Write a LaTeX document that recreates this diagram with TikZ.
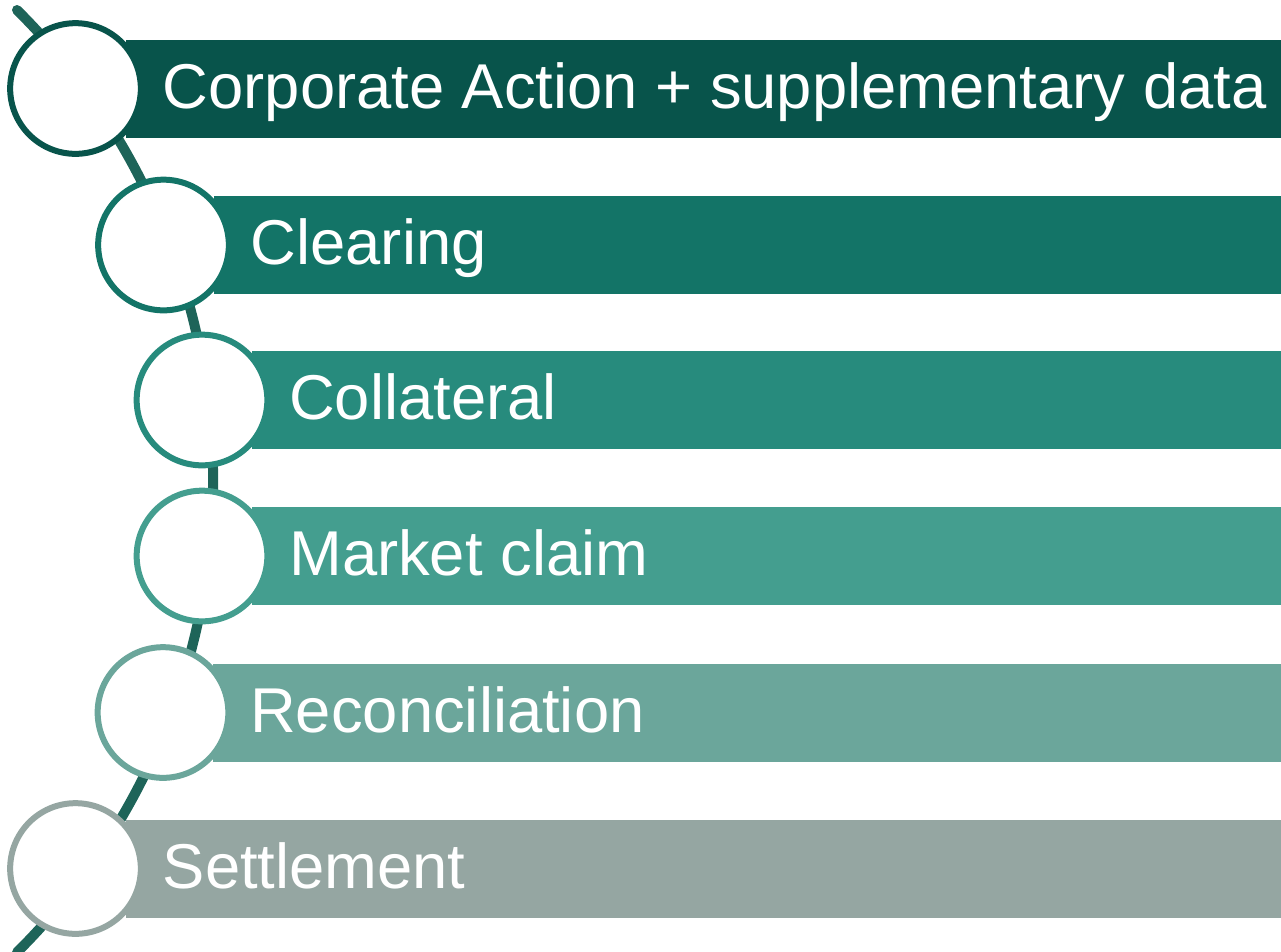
\documentclass[tikz,border=0pt]{standalone}
\usepackage{fontspec}
\setmainfont{Liberation Sans}

\definecolor{barA}{HTML}{08544B}
\definecolor{barB}{HTML}{137467}
\definecolor{barC}{HTML}{278B7D}
\definecolor{barD}{HTML}{449E8F}
\definecolor{barE}{HTML}{6BA69B}
\definecolor{barF}{HTML}{95A6A2}
\definecolor{spinecol}{HTML}{1E6459}

\tikzset{
  spine/.style={draw=spinecol, line width=7.5pt, line cap=round},
  bar/.style={anchor=west, inner sep=0pt, minimum height=73.5pt},
  itemtext/.style={anchor=base west, inner sep=0pt, text=white,
    font=\fontsize{47.5}{57}\selectfont},
  dot/.style={circle, fill=white, line width=4.5pt, minimum size=98pt, inner sep=0pt}
}

\begin{document}
\begin{tikzpicture}[x=0.75pt,y=-0.75pt]
  \useasboundingbox (0,0) rectangle (1281,951);

  \coordinate (S0) at (17,10);
  \coordinate (S1) at (17,944);

  % Draw the spine behind the list
  \draw [spine] (S0) arc[start angle=-45.2, end angle=45.2, radius=664];

  % Draw bars, texts and circles
  \foreach \i/\cx/\cy/\col/\txt in {
      1/75.5/88.5/barA/{Corporate Action + supplementary data},
      2/163.5/245/barB/{Clearing},
      3/202/400/barC/{Collateral},
      4/202/556/barD/{Market claim},
      5/163/712.5/barE/{Reconciliation},
      6/75.5/868.5/barF/{Settlement}}{
    \node [bar, fill=\col, minimum width={(1281-\cx-50)*0.75pt}] (bar\i) at (\cx+50,\cy) {};
    \node [itemtext] (txt\i) at (\cx+87,\cy+19.5) {\txt};
    \node [dot, draw=\col] (dot\i) at (\cx,\cy) {};
  }

\end{tikzpicture}
\end{document}
